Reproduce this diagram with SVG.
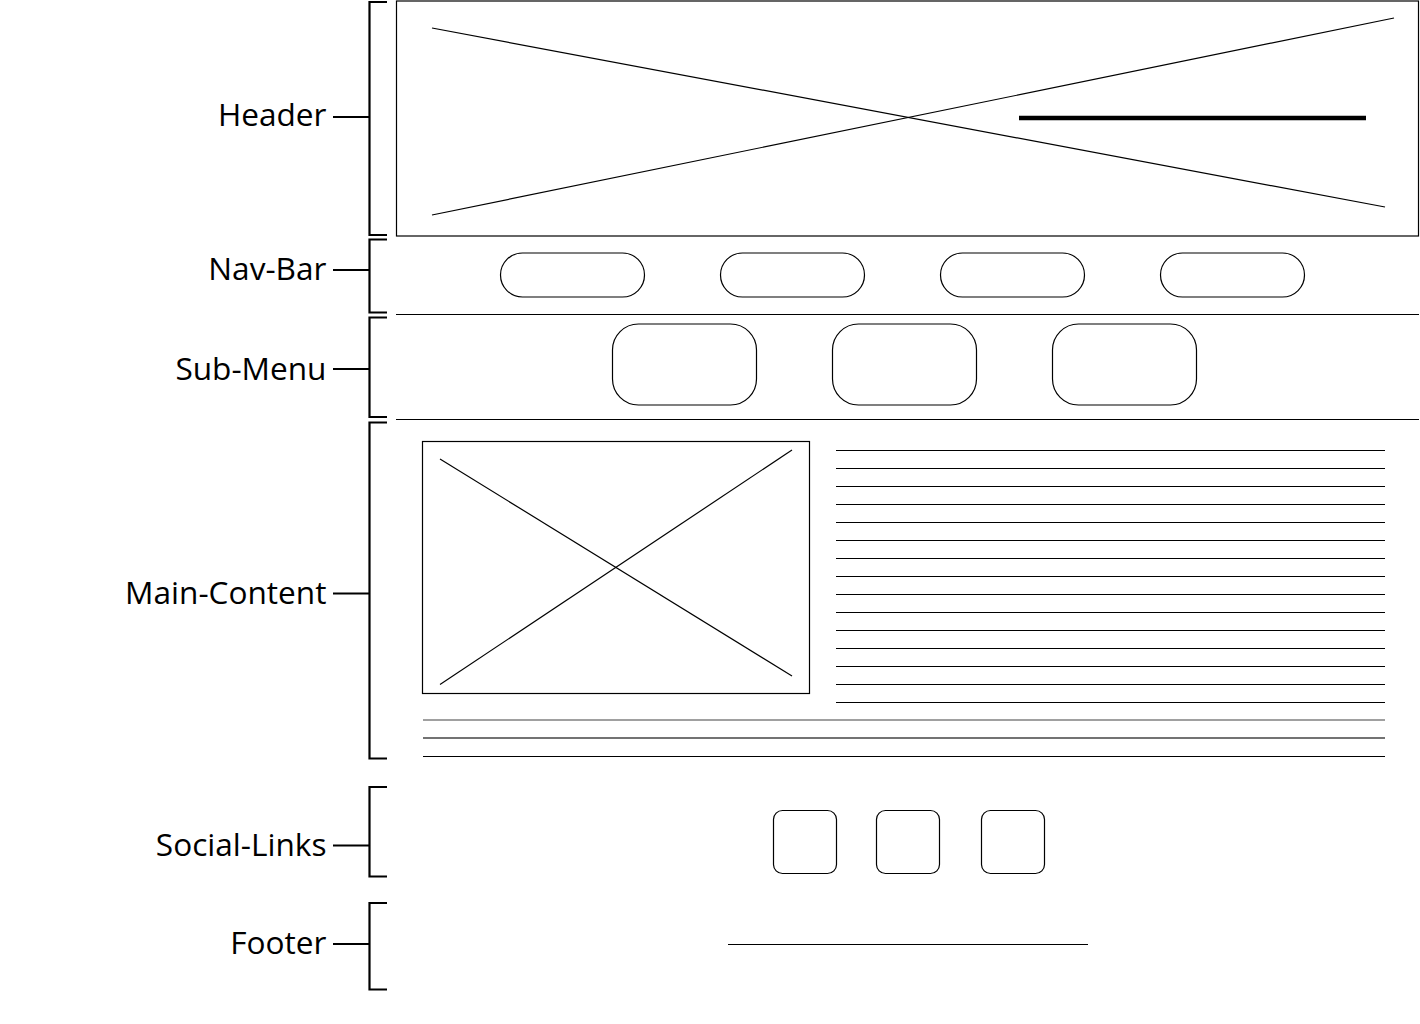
<svg xmlns="http://www.w3.org/2000/svg" width="1420" height="1024" viewBox="0 0 1420 1024">
<style>
.lbl{font-family:"Open Sans","Liberation Sans",sans-serif;font-size:31.6px;fill:#000;text-anchor:end}
.br{fill:none;stroke:#000;stroke-width:2.2}
.thin{fill:none;stroke:#000;stroke-width:1.2}
.box{fill:#fff;stroke:#000;stroke-width:1.2}
</style>
<rect width="1420" height="1024" fill="#fff"/>
<g id="connectors">
<path class="br" d="M387,2 H369.5 V235 H387 M333,117 H369.5"/>
<path class="br" d="M387,239.5 H369.5 V312.5 H387 M333,270 H369.5"/>
<path class="br" d="M387,317.5 H369.5 V417 H387 M333,369 H369.5"/>
<path class="br" d="M387,422.5 H369.5 V758.5 H387 M333,593.5 H369.5"/>
<path class="br" d="M387,787 H369.5 V876.5 H387 M333,845.5 H369.5"/>
<path class="br" d="M387,903 H369.5 V989.5 H387 M333,944 H369.5"/>
</g>
<g id="labels">
<text class="lbl" x="326.5" y="125.5">Header</text>
<text class="lbl" x="326.5" y="279.5">Nav-Bar</text>
<text class="lbl" x="326.5" y="379.5">Sub-Menu</text>
<text class="lbl" x="326.5" y="604">Main-Content</text>
<text class="lbl" x="326.5" y="855.5">Social-Links</text>
<text class="lbl" x="326.5" y="953.5">Footer</text>
</g>
<g id="header">
<rect class="box" x="396.5" y="1" width="1022" height="235"/>
<line class="thin" x1="432" y1="28" x2="1385" y2="207"/>
<line class="thin" x1="432" y1="215" x2="1394" y2="18"/>
<line x1="1019" y1="118" x2="1366" y2="118" stroke="#000" stroke-width="4.5"/>
</g>
<g id="nav-bar">
<rect class="box" x="500.5" y="253" width="144" height="44" rx="22"/>
<rect class="box" x="720.5" y="253" width="144" height="44" rx="22"/>
<rect class="box" x="940.5" y="253" width="144" height="44" rx="22"/>
<rect class="box" x="1160.5" y="253" width="144" height="44" rx="22"/>
<line class="thin" x1="396" y1="314.5" x2="1419" y2="314.5"/>
</g>
<g id="sub-menu">
<rect class="box" x="612.5" y="324" width="144" height="81" rx="26"/>
<rect class="box" x="832.5" y="324" width="144" height="81" rx="26"/>
<rect class="box" x="1052.5" y="324" width="144" height="81" rx="26"/>
<line class="thin" x1="396" y1="419.5" x2="1419" y2="419.5"/>
</g>
<g id="main-content">
<rect class="box" x="422.5" y="441.5" width="387" height="252"/>
<line class="thin" x1="440" y1="459" x2="792" y2="676"/>
<line class="thin" x1="440" y1="684.5" x2="792" y2="450"/>
<g class="thin">
<line x1="836" y1="450.5" x2="1385" y2="450.5"/>
<line x1="836" y1="468.5" x2="1385" y2="468.5"/>
<line x1="836" y1="486.5" x2="1385" y2="486.5"/>
<line x1="836" y1="504.5" x2="1385" y2="504.5"/>
<line x1="836" y1="522.5" x2="1385" y2="522.5"/>
<line x1="836" y1="540.5" x2="1385" y2="540.5"/>
<line x1="836" y1="558.5" x2="1385" y2="558.5"/>
<line x1="836" y1="576.5" x2="1385" y2="576.5"/>
<line x1="836" y1="594.5" x2="1385" y2="594.5"/>
<line x1="836" y1="612.5" x2="1385" y2="612.5"/>
<line x1="836" y1="630.5" x2="1385" y2="630.5"/>
<line x1="836" y1="648.5" x2="1385" y2="648.5"/>
<line x1="836" y1="666.5" x2="1385" y2="666.5"/>
<line x1="836" y1="684.5" x2="1385" y2="684.5"/>
<line x1="836" y1="702.5" x2="1385" y2="702.5"/>
</g>
<line x1="423" y1="720" x2="1385" y2="720" stroke="#808080" stroke-width="1.5"/>
<line x1="423" y1="738" x2="1385" y2="738" stroke="#444" stroke-width="1.3"/>
<line class="thin" x1="423" y1="756.5" x2="1385" y2="756.5"/>
</g>
<g id="social-links">
<rect class="box" x="773.5" y="810.5" width="63" height="63" rx="9"/>
<rect class="box" x="876.5" y="810.5" width="63" height="63" rx="9"/>
<rect class="box" x="981.5" y="810.5" width="63" height="63" rx="9"/>
</g>
<g id="footer">
<line class="thin" x1="728" y1="944.5" x2="1088" y2="944.5"/>
</g>
</svg>
